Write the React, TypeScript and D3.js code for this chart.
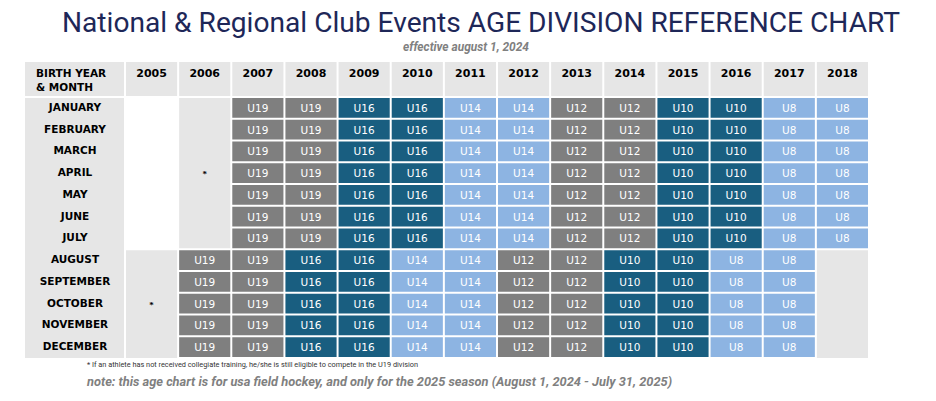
import React from "react";
import * as d3 from "d3";

const years = ["2005","2006","2007","2008","2009","2010","2011","2012","2013","2014","2015","2016","2017","2018"];
const months = ["JANUARY","FEBRUARY","MARCH","APRIL","MAY","JUNE","JULY","AUGUST","SEPTEMBER","OCTOBER","NOVEMBER","DECEMBER"];
// division per birth year for Jan–Jul births
const janJulDivisions = ["", "", "U19","U19","U16","U16","U14","U14","U12","U12","U10","U10","U8","U8"];
// division per birth year for Aug–Dec births
const augDecDivisions = ["", "U19","U19","U16","U16","U14","U14","U12","U12","U10","U10","U8","U8",""];
const firstHalfMonths = 7;

const divisionColors: Record<string, string> = {
  U19: "#7f7f7f",
  U16: "#195e80",
  U14: "#8db4e2",
  U12: "#7f7f7f",
  U10: "#195e80",
  U8: "#8db4e2",
};

const W = 936, H = 401;
const left = 25, labelW = 100, right = 869;
const headTop = 62, headBot = 97, bottom = 358;
const GRAY = "#e6e6e6";

export default function App() {
  const x = d3.scaleBand<string>().domain(years).range([left + labelW, right]).padding(0);
  const y = d3.scaleBand<string>().domain(months).range([headBot, bottom]).padding(0);
  const bw = x.bandwidth(), bh = y.bandwidth();

  const cells: React.ReactNode[] = [];
  months.forEach((m, mi) => {
    const divs = mi < firstHalfMonths ? janJulDivisions : augDecDivisions;
    years.forEach((yr, yi) => {
      const d = divs[yi];
      if (!d) return;
      const cx = x(yr)!, cy = y(m)!;
      cells.push(
        <g key={m + yr}>
          <rect x={cx + 1} y={cy + 1} width={bw - 2} height={bh - 2} fill={divisionColors[d]} />
          <text x={cx + bw / 2} y={cy + bh / 2 + 4} textAnchor="middle" fill="#ffffff"
            fontFamily="DejaVu Sans, Verdana, sans-serif" fontSize={10.5}>{d}</text>
        </g>
      );
    });
  });

  const jul = months[firstHalfMonths - 1];
  const aug = months[firstHalfMonths];
  const dec = months[months.length - 1];
  const y0 = y(months[0])!, yJulEnd = y(jul)! + bh, yAug = y(aug)!, yDecEnd = y(dec)! + bh;

  return (
    <svg width={W} height={H} style={{ position: "absolute", left: 0, top: 0 }}>
      <rect width={W} height={H} fill="#ffffff" />
      <text x={62} y={32} textLength={838} lengthAdjust="spacingAndGlyphs" fill="#1e2758"
        fontFamily="Roboto, sans-serif" fontSize={28}>National &amp; Regional Club Events AGE DIVISION REFERENCE CHART</text>
      <text x={466} y={51} textAnchor="middle" textLength={126} lengthAdjust="spacingAndGlyphs" fill="#808080"
        fontFamily="Roboto, sans-serif" fontSize={12} fontWeight="bold" fontStyle="italic">effective august 1, 2024</text>

      <rect x={left} y={headTop} width={labelW - 1} height={headBot - headTop - 1} fill={GRAY} />
      {years.map((yr) => (
        <g key={yr}>
          <rect x={x(yr)! + 1} y={headTop} width={bw - 2} height={headBot - headTop - 1} fill={GRAY} />
          <text x={x(yr)! + bw / 2} y={headTop + 15} textAnchor="middle" fill="#000"
            fontFamily="DejaVu Sans, Verdana, sans-serif" fontWeight="bold" fontSize={11}>{yr}</text>
        </g>
      ))}
      <text x={left + 11} y={headTop + 15} fill="#000" fontFamily="DejaVu Sans, Verdana, sans-serif" fontWeight="bold" fontSize={10.5}>BIRTH YEAR</text>
      <text x={left + 11} y={headTop + 29} fill="#000" fontFamily="DejaVu Sans, Verdana, sans-serif" fontWeight="bold" fontSize={10.5}>&amp; MONTH</text>

      <rect x={left} y={y0 + 1} width={labelW - 1} height={bottom - y0 - 1} fill={GRAY} />
      {months.map((m) => (
        <text key={m} x={left + labelW / 2} y={y(m)! + bh / 2 + 3} textAnchor="middle" fill="#000"
          fontFamily="DejaVu Sans, Verdana, sans-serif" fontWeight="bold" fontSize={10.5}>{m}</text>
      ))}

      <rect x={x("2006")! + 1} y={y0 + 1} width={bw - 2} height={yJulEnd - y0 - 2} fill={GRAY} />
      <text x={x("2006")! + bw / 2} y={(y0 + yJulEnd) / 2 + 4} textAnchor="middle" fontSize={9} fontWeight="bold" fill="#000">*</text>
      <rect x={x("2005")! + 1} y={yAug + 1} width={bw - 2} height={yDecEnd - yAug - 1} fill={GRAY} />
      <text x={x("2005")! + bw / 2} y={(yAug + yDecEnd) / 2 + 4} textAnchor="middle" fontSize={9} fontWeight="bold" fill="#000">*</text>
      <rect x={x("2018")! + 1} y={yAug + 1} width={bw - 2} height={yDecEnd - yAug - 1} fill={GRAY} />

      {cells}

      <text x={87} y={367} textLength={331} lengthAdjust="spacingAndGlyphs" fill="#333"
        fontFamily="Roboto, sans-serif" fontSize={6.5}>* If an athlete has not received collegiate training, he/she is still eligible to compete in the U19 division</text>
      <text x={87} y={386} textLength={585} lengthAdjust="spacingAndGlyphs" fill="#808080"
        fontFamily="Roboto, sans-serif" fontSize={13} fontWeight="bold" fontStyle="italic">note: this age chart is for usa field hockey, and only for the 2025 season (August 1, 2024 - July 31, 2025)</text>
    </svg>
  );
}
